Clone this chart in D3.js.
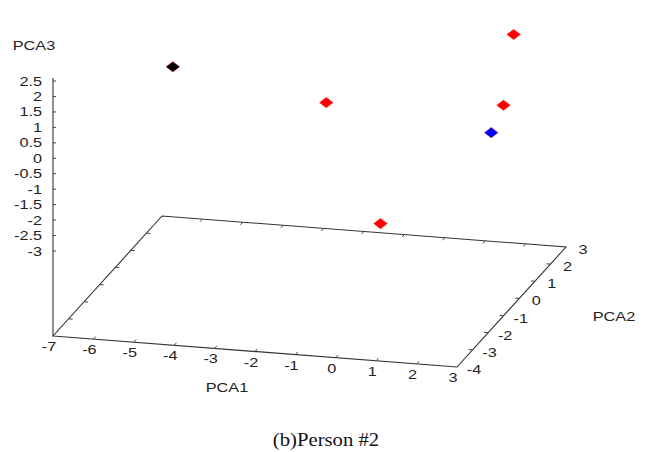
<!DOCTYPE html>
<html>
<head>
<meta charset="utf-8">
<script src="https://cdn.jsdelivr.net/npm/d3@7"></script>
<style>
  body { margin: 0; background: #fff; }
  svg { display: block; }
  .lbl { font-family: "Liberation Sans", Arial, sans-serif; font-size: 13px; fill: #222; }
  .cap { font-family: "Liberation Serif", "Times New Roman", serif; font-size: 18px; font-weight: normal; fill: #111; }
</style>
</head>
<body>
<div id="chart"></div>
<script>
// data (x = PCA1, y = PCA2, z = PCA3)
var pca1 = [-5.96, -1.97, 2.09, 2.03, 1.92, -0.05];
var pca2 = [1.0, 0.5, 2.0, 1.5, 1.0, -1.0];
var pca3 = [0.29, -0.19, 1.59, -0.43, -1.05, -3.08];
var colors = ["#000000", "#ff0000", "#ff0000", "#ff0000", "#0000ff", "#ff0000"];

var xTicks = [-7, -6, -5, -4, -3, -2, -1, 0, 1, 2, 3];
var yTicks = [-4, -3, -2, -1, 0, 1, 2, 3];
var zTicks = [2.5, 2, 1.5, 1, 0.5, 0, -0.5, -1, -1.5, -2, -2.5, -3];

var width = 649, height = 452;
var stretch = 1.25; // the source picture is a little wide

// floor corner (x=-7, y=-4) and the axis vectors on screen
var origin = [53, 336];
var ex = d3.scaleLinear().domain([-7, 3]).range([0, 1]);
var ey = d3.scaleLinear().domain([-4, 3]).range([0, 1]);
var EX = [404, 31], EY = [109, -120];
var z = d3.scaleLinear().domain([-3, 2.5]).range([251, 81]);

function proj(x, y, zz) {
  var u = ex(x), v = ey(y);
  var px = origin[0] + u * EX[0] + v * EY[0];
  var py = origin[1] + u * EX[1] + v * EY[1];
  if (zz !== undefined) py += z(zz) - origin[1];
  return [px, py];
}

var svg = d3.select("#chart").append("svg")
    .attr("width", width)
    .attr("height", height);

var line = d3.line();

function text(cls, x, y, anchor, s, sx) {
  svg.append("text")
      .attr("class", cls)
      .attr("transform", "translate(" + x + "," + y + ") scale(" + (sx || stretch) + ",1)")
      .style("text-anchor", anchor)
      .text(s);
}

// floor
var xd = ex.domain(), yd = ey.domain();
svg.append("path")
    .attr("d", line([proj(xd[0], yd[0]), proj(xd[1], yd[0]), proj(xd[1], yd[1]), proj(xd[0], yd[1])]) + "Z")
    .attr("fill", "none")
    .attr("stroke", "#333")
    .attr("stroke-width", 1.1);

// floor ticks
var ticks = svg.append("g").attr("stroke", "#444").attr("stroke-width", 1);
xTicks.slice(1, -1).forEach(function(t) {
  ticks.append("path").attr("d", line([proj(t, yd[0]), proj(t, yd[0] + 0.15)]));
  ticks.append("path").attr("d", line([proj(t, yd[1]), proj(t, yd[1] - 0.15)]));
});
yTicks.slice(1, -1).forEach(function(t) {
  ticks.append("path").attr("d", line([proj(xd[1], t), proj(xd[1] - 0.1, t)]));
  ticks.append("path").attr("d", line([proj(xd[0], t), proj(xd[0] + 0.1, t)]));
});

// vertical axis
svg.append("path")
    .attr("d", line([origin, [origin[0], z(2.6)]]))
    .attr("stroke", "#333")
    .attr("stroke-width", 1.1);
zTicks.forEach(function(t) {
  ticks.append("path").attr("d", line([[origin[0], z(t)], [origin[0] + 3, z(t)]]));
  text("lbl", origin[0] - 11, z(t) + 4.5, "end", t);
});

// tick labels on the floor
xTicks.forEach(function(t) {
  var p = proj(t, yd[0]);
  text("lbl", p[0] - 4, p[1] + 15, "middle", t);
});
yTicks.forEach(function(t) {
  var p = proj(xd[1], t);
  text("lbl", p[0] + 17, p[1] + 7, "middle", t);
});

// axis titles
text("lbl", 227, 392, "middle", "PCA1");
text("lbl", 614, 321, "middle", "PCA2");
text("lbl", 34, 50, "middle", "PCA3");

// points
var marker = d3.symbol().type(d3.symbolSquare).size(56);
svg.selectAll(".pt")
    .data(pca1)
  .enter().append("path")
    .attr("class", "pt")
    .attr("d", marker)
    .attr("transform", function(d, i) {
      var p = proj(pca1[i], pca2[i], pca3[i]);
      return "translate(" + p[0] + "," + p[1] + ") scale(1.3,1) rotate(45)";
    })
    .attr("fill", function(d, i) { return colors[i]; })
    .attr("stroke", "#ff4040")
    .attr("stroke-width", 0.5)
    .attr("stroke-opacity", 0.6);

// caption
text("cap", 326, 446, "middle", "(b)Person #2", 1.15);
</script>
</body>
</html>
